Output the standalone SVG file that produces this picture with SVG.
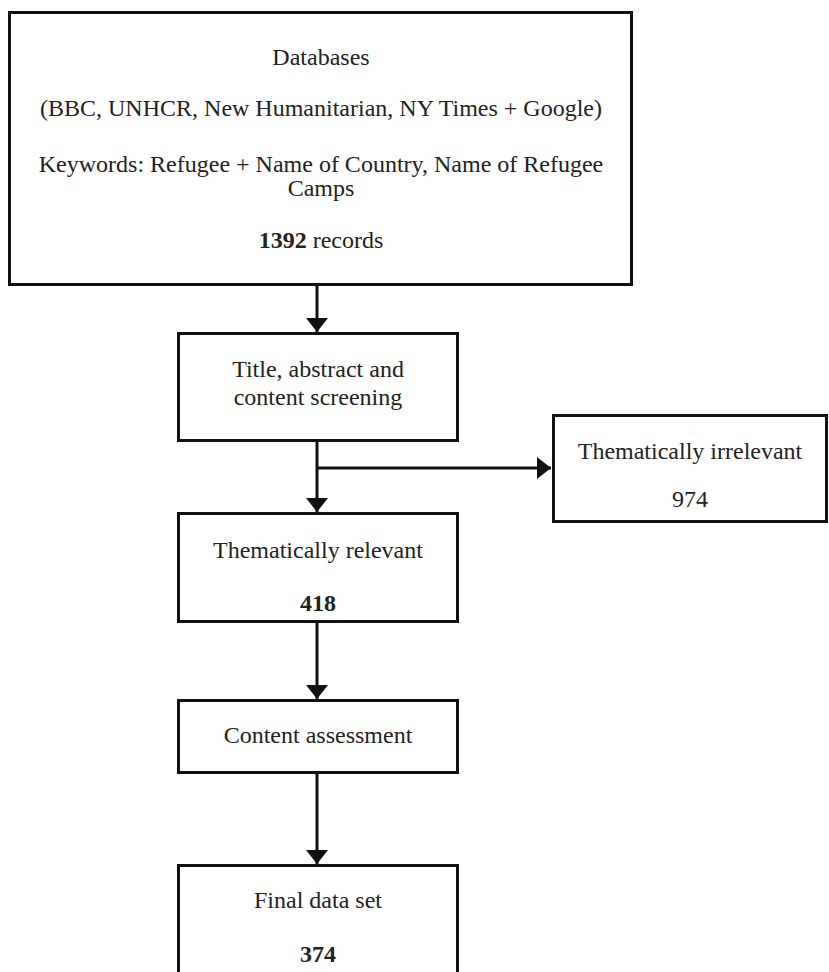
<svg xmlns="http://www.w3.org/2000/svg" width="829" height="972" viewBox="0 0 829 972">
<style>
.box{fill:#fff;stroke:#111;stroke-width:3}
.t{font-family:'Liberation Serif','DejaVu Serif',serif;font-size:24px;fill:#222;text-anchor:middle}
.b{font-weight:bold}
.c{stroke:#111;stroke-width:3;fill:none}
</style>
<defs>
<marker id="ah" viewBox="0 0 14 22" refX="14" refY="11" markerWidth="14" markerHeight="22" markerUnits="userSpaceOnUse" orient="auto">
<path d="M0,0 L14,11 L0,22 Z" fill="#111"/>
</marker>
</defs>
<rect width="829" height="972" fill="#fff"/>
<g id="connectors">
<line class="c" x1="317" y1="285" x2="317" y2="332" marker-end="url(#ah)"/>
<line class="c" x1="317" y1="441" x2="317" y2="512" marker-end="url(#ah)"/>
<line class="c" x1="317" y1="468" x2="551" y2="468" marker-end="url(#ah)"/>
<line class="c" x1="317" y1="622" x2="317" y2="699" marker-end="url(#ah)"/>
<line class="c" x1="317" y1="773" x2="317" y2="864" marker-end="url(#ah)"/>
</g>
<g id="databases">
<rect class="box" x="9.5" y="12.5" width="622" height="272"/>
<text class="t" font-family="Liberation Serif, serif" x="321" y="65">Databases</text>
<text class="t" font-family="Liberation Serif, serif" x="321" y="116">(BBC, UNHCR, New Humanitarian, NY Times + Google)</text>
<text class="t" font-family="Liberation Serif, serif" x="321" y="172">Keywords: Refugee + Name of Country, Name of Refugee</text>
<text class="t" font-family="Liberation Serif, serif" x="321" y="196">Camps</text>
<text class="t" font-family="Liberation Serif, serif" x="321" y="248"><tspan class="b">1392</tspan> records</text>
</g>
<g id="screening">
<rect class="box" x="178.5" y="333.5" width="279" height="107"/>
<text class="t" font-family="Liberation Serif, serif" x="318" y="377">Title, abstract and</text>
<text class="t" font-family="Liberation Serif, serif" x="318" y="405">content screening</text>
</g>
<g id="irrelevant">
<rect class="box" x="553.5" y="415.5" width="273" height="106"/>
<text class="t" font-family="Liberation Serif, serif" x="690" y="459">Thematically irrelevant</text>
<text class="t" font-family="Liberation Serif, serif" x="690" y="507">974</text>
</g>
<g id="relevant">
<rect class="box" x="178.5" y="513.5" width="279" height="108"/>
<text class="t" font-family="Liberation Serif, serif" x="318" y="558">Thematically relevant</text>
<text class="t b" font-family="Liberation Serif, serif" x="318" y="611">418</text>
</g>
<g id="assessment">
<rect class="box" x="178.5" y="700.5" width="279" height="72"/>
<text class="t" font-family="Liberation Serif, serif" x="318" y="743">Content assessment</text>
</g>
<g id="final">
<rect class="box" x="178.5" y="865.5" width="279" height="120"/>
<text class="t" font-family="Liberation Serif, serif" x="318" y="908">Final data set</text>
<text class="t b" font-family="Liberation Serif, serif" x="318" y="962">374</text>
</g>
</svg>
